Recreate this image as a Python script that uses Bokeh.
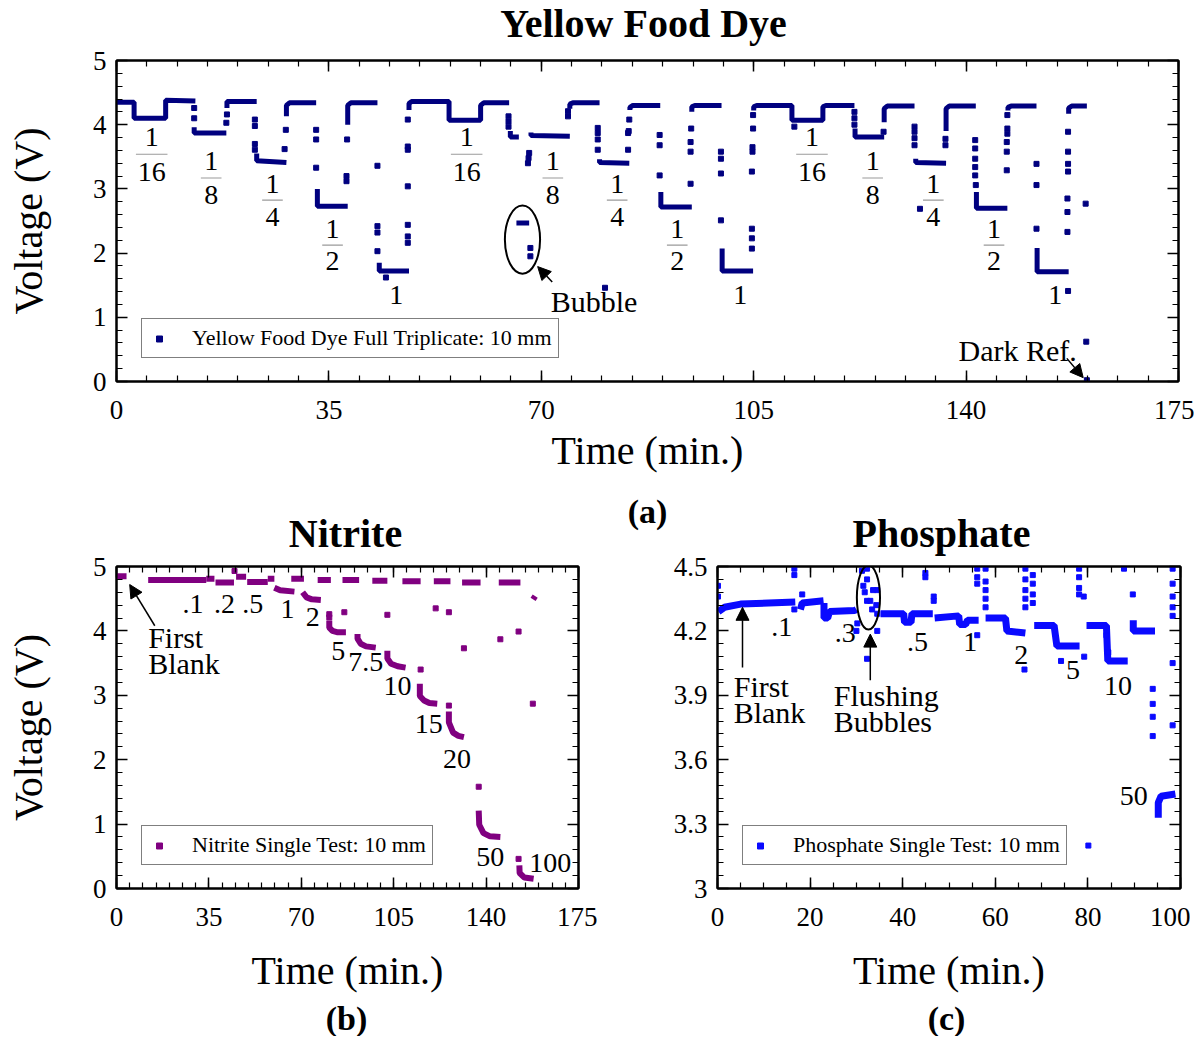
from bokeh.plotting import figure
from bokeh.models import (Range1d, FixedTicker, LinearAxis, Legend, LegendItem,
                          Arrow, NormalHead, CustomJSTickFormatter)
from bokeh.layouts import column, row
from bokeh.core.properties import value
from bokeh.embed import file_html
from bokeh.resources import INLINE

FONT = "Liberation Serif"

# ---------------- (a) Yellow Food Dye -----------------
dye_runs_t = [
    [0, 2.9, 2.9, 8.1, 8.1, 13.0], [12.8, 12.8, 18.1], [18.2, 18.2, 23.1],
    [23.1, 23.1, 28.0], [28.0, 28.0, 28.5, 32.9], [33.1, 33.1, 38.1],
    [38.1, 38.1, 38.6, 43.0], [43.3, 43.3, 48.2],
    [48.2, 48.2, 48.6, 54.8, 54.8, 60.0, 60.0, 60.5, 64.7],
    [64.9, 64.9, 66.3], [65.9, 68.0], [68.3, 68.3, 74.7], [74.7, 74.7, 75.2, 79.6],
    [79.6, 79.6, 84.5], [84.6, 84.6, 85.1, 89.6], [89.7, 89.7, 94.8],
    [94.8, 94.8, 95.3, 99.7], [99.8, 99.8, 104.9],
    [105.0, 105.0, 105.5, 111.3, 111.3, 116.4, 116.4, 116.9, 121.6],
    [121.7, 121.7, 126.5], [126.5, 126.5, 127.0, 131.5], [131.7, 131.7, 136.7],
    [136.7, 136.7, 137.2, 141.6], [141.7, 141.7, 146.8], [146.9, 146.9, 147.4, 151.6],
    [151.7, 151.7, 156.9], [156.9, 156.9, 157.4, 159.9],
]
dye_runs_v = [
    [4.35, 4.35, 4.10, 4.10, 4.38, 4.37], [3.96, 3.87, 3.87], [4.26, 4.36, 4.36],
    [3.55, 3.44, 3.41], [4.13, 4.30, 4.34, 4.34], [3.00, 2.73, 2.73],
    [4.00, 4.30, 4.34, 4.34], [1.85, 1.72, 1.72],
    [4.23, 4.33, 4.36, 4.36, 4.07, 4.07, 4.30, 4.34, 4.34],
    [3.90, 3.81, 3.81], [2.47, 2.47], [3.88, 3.83, 3.82], [4.25, 4.32, 4.34, 4.34],
    [3.46, 3.41, 3.40], [4.23, 4.27, 4.30, 4.30], [2.95, 2.72, 2.72],
    [4.20, 4.28, 4.30, 4.30], [2.07, 1.72, 1.72],
    [4.22, 4.28, 4.30, 4.30, 4.07, 4.07, 4.28, 4.30, 4.30],
    [3.94, 3.81, 3.81], [4.04, 4.25, 4.29, 4.29], [3.47, 3.41, 3.40],
    [3.90, 4.25, 4.29, 4.29], [2.95, 2.70, 2.70], [4.22, 4.27, 4.29, 4.29],
    [2.08, 1.71, 1.71], [4.17, 4.26, 4.29, 4.29],
]
dye_dot_t = [12.8, 12.8, 18.1, 18.2, 22.8, 22.8, 22.8, 22.8, 27.7, 27.9,
             32.9, 32.9, 32.9, 37.9, 37.9, 38.0, 43.0, 43.0, 43.0, 43.0, 44.4,
             48.0, 48.0, 48.0, 48.0, 48.0, 48.0, 48.0,
             64.6, 64.6, 64.6, 67.8, 67.9, 68.0, 68.2, 68.2, 74.4, 74.4, 80.5,
             79.3, 79.3, 79.3, 79.3, 84.3, 84.3, 84.4, 84.5,
             89.5, 89.5, 89.5, 94.6, 94.6, 94.6, 94.7,
             99.6, 99.6, 99.6, 99.6,
             104.7, 104.7, 104.7, 104.7, 104.8, 104.8, 104.9, 104.9, 111.7,
             121.6, 121.6, 121.6, 126.4,
             131.5, 131.5, 131.5, 131.5, 132.4, 136.6, 136.6,
             141.5, 141.5, 141.5, 141.5, 141.5, 141.6,
             146.7, 146.7, 146.7, 146.8, 146.8, 146.8,
             151.6, 151.6, 151.6, 156.8,
             156.7, 156.7, 156.7, 156.8, 156.8, 156.8, 156.8,
             159.7, 159.8, 159.9]
dye_dot_v = [4.26, 4.10, 4.03, 4.16, 4.08, 3.98, 3.70, 3.61, 3.62, 3.92,
             3.92, 3.77, 3.33, 3.12, 3.20, 3.77, 3.36, 2.42, 2.32, 2.03, 1.62,
             2.16, 2.26, 2.44, 3.04, 3.61, 3.66, 4.08,
             4.13, 4.05, 3.97, 3.40, 3.48, 3.56, 2.08, 1.95, 4.13, 4.21, 1.46,
             3.95, 3.87, 3.77, 3.61, 3.61, 3.87, 3.90, 4.08,
             3.84, 3.68, 3.21, 3.08, 3.58, 3.73, 3.94,
             3.58, 3.47, 3.24, 2.51,
             2.07, 2.23, 2.38, 3.27, 3.58, 3.65, 3.94, 4.15, 3.97,
             4.20, 4.10, 4.00, 3.89,
             3.97, 3.89, 3.79, 3.68, 2.69, 3.68, 3.78,
             3.76, 3.63, 3.47, 3.34, 3.21, 3.06,
             3.29, 3.58, 3.73, 3.86, 3.94, 4.15,
             3.39, 3.06, 2.38, 1.41,
             2.33, 2.64, 2.85, 3.27, 3.39, 3.58, 3.89,
             2.77, 0.62, 0.02]

dye_frac_t = [5.8, 15.6, 25.7, 35.6, 57.7, 71.9, 82.5, 92.4, 114.6, 124.6, 134.6, 144.6]
dye_frac_num_v = [3.81, 3.44, 3.08, 2.38, 3.81, 3.44, 3.08, 2.38, 3.81, 3.44, 3.08, 2.38]
dye_frac_den_v = [3.27, 2.90, 2.57, 1.87, 3.27, 2.90, 2.57, 1.87, 3.27, 2.90, 2.57, 1.87]
dye_frac_num = ["1"] * 12
dye_frac_den = ["16", "8", "4", "2", "16", "8", "4", "2", "16", "8", "4", "2"]
dye_one_t = [46.1, 102.8, 154.7]
dye_one_v = [1.34, 1.34, 1.34]
dye_one_txt = ["1", "1", "1"]

# ---------------- (b) Nitrite -----------------
nit_runs_t = [
    [0, 3.8], [12.0, 34.0], [34.0, 37.1], [37.5, 44.5], [45.3, 49.1], [49.5, 57.3],
    [57.3, 59.8], [59.8, 62.0, 67.4], [66.2, 71.0], [70.5, 72.0, 74.0, 77.4],
    [76.2, 81.2], [80.6, 80.6, 81.8, 83.5, 86.9], [85.6, 91.9],
    [91.3, 91.3, 92.5, 94.5, 98.2], [96.9, 102.6], [102.6, 102.6, 104.0, 106.5, 109.5],
    [108.3, 115.2], [114.9, 114.9, 116.5, 118.5, 121.5], [120.2, 126.5],
    [125.9, 125.9, 127.5, 129.5, 131.6], [130.9, 137.9],
    [137.2, 137.4, 139.0, 141.5, 145.4], [144.8, 153.0],
    [152.6, 152.7, 154.5, 158.0], [157.8, 158.6],
]
nit_runs_v = [
    [4.85, 4.85], [4.79, 4.79], [4.81, 4.81], [4.75, 4.75], [4.84, 4.84], [4.76, 4.76],
    [4.81, 4.81], [4.67, 4.63, 4.61], [4.81, 4.81], [4.60, 4.52, 4.49, 4.48],
    [4.79, 4.79], [4.16, 4.05, 4.00, 3.98, 3.98], [4.79, 4.79],
    [3.95, 3.88, 3.80, 3.76, 3.74], [4.78, 4.78], [3.69, 3.57, 3.49, 3.45, 3.43],
    [4.77, 4.77], [3.18, 2.99, 2.92, 2.88, 2.87], [4.77, 4.77],
    [2.75, 2.58, 2.42, 2.37, 2.35], [4.75, 4.75],
    [1.21, 0.99, 0.86, 0.81, 0.80], [4.75, 4.75],
    [0.36, 0.24, 0.17, 0.15], [4.49, 4.54],
]
nit_dot_t = [44.7, 80.6, 80.6, 86.3, 102.6, 115.2, 120.9, 125.9, 125.9, 131.6,
             137.2, 145.4, 152.3, 152.3, 157.7]
nit_dot_v = [4.93, 4.26, 4.21, 4.29, 4.25, 3.40, 4.35, 4.29, 2.84, 3.73,
             1.58, 3.87, 3.99, 0.46, 2.87]
nit_lab_t = [29.0, 40.9, 51.6, 64.8, 74.3, 84.0, 94.4, 106.4, 118.3, 129.0, 141.6, 164.3]
nit_lab_v = [4.42, 4.42, 4.42, 4.34, 4.21, 3.69, 3.51, 3.15, 2.56, 2.01, 0.49, 0.39]
nit_lab = [".1", ".2", ".5", "1", "2", "5", "7.5", "10", "15", "20", "50", "100"]

# ---------------- (c) Phosphate -----------------
pho_runs_t = [
    [0.2, 1.5, 5.0, 16.8], [17.9, 18.3, 22.9], [23.0, 23.0, 23.8, 24.2, 29.6, 30.0],
    [35.2, 40.2, 40.4, 41.8, 42.0, 46.5], [46.9, 52.1, 52.3, 53.6, 54.0, 56.4],
    [57.9, 62.2, 62.5, 66.5], [68.4, 72.7, 73.3, 78.2], [79.7, 84.0, 84.3, 88.6],
    [89.8, 89.8, 94.5], [95.2, 95.2, 95.8, 98.9],
]
pho_runs_v = [
    [4.29, 4.31, 4.325, 4.335], [4.30, 4.33, 4.34], [4.33, 4.26, 4.26, 4.29, 4.295, 4.30],
    [4.28, 4.28, 4.24, 4.24, 4.28, 4.28], [4.26, 4.27, 4.23, 4.23, 4.25, 4.25],
    [4.26, 4.26, 4.20, 4.19], [4.225, 4.225, 4.13, 4.13], [4.225, 4.225, 4.06, 4.06],
    [4.25, 4.20, 4.20], [3.33, 3.40, 3.43, 3.44],
]
pho_dot_t = [0.1, 0.1, 16.6, 16.6, 16.6, 18.3,
             31.2, 31.5, 31.8, 32.3, 32.3, 32.3, 33.0, 33.4, 33.6, 34.5, 34.3, 34.5, 30.2, 30.0, 34.5, 32.3,
             44.9, 44.9, 46.7, 46.7,
             56.1, 56.1, 56.1, 56.1, 57.9, 57.9, 57.9, 57.9, 57.9,
             66.3, 66.5, 66.5, 66.5, 66.5, 66.5, 68.1, 68.1, 68.1, 68.1,
             74.2, 79.2, 78.1, 78.1, 78.1, 78.1, 79.1,
             84.0, 84.4, 80.1, 87.8, 89.7,
             94.0, 94.0, 94.0, 94.0,
             98.3, 98.3, 98.3, 98.3, 98.3, 98.3, 98.3]
pho_dot_v = [4.41, 4.36, 4.49, 4.46, 4.30, 4.37,
             4.48, 4.41, 4.38, 4.49, 4.44, 4.34, 4.34, 4.30, 4.39, 4.39, 4.32, 4.28, 4.235, 4.20, 4.20, 4.07,
             4.47, 4.45, 4.34, 4.36,
             4.18, 4.49, 4.45, 4.42, 4.49, 4.43, 4.39, 4.35, 4.31,
             4.02, 4.49, 4.44, 4.39, 4.35, 4.31, 4.46, 4.42, 4.37, 4.33,
             4.06, 4.08, 4.49, 4.45, 4.40, 4.37, 4.36,
             4.18, 4.10, 3.20, 4.49, 4.37,
             3.93, 3.86, 3.80, 3.71,
             4.49, 4.42, 4.36, 4.31, 4.27, 4.05, 3.76]
pho_lab_t = [13.9, 27.6, 43.2, 54.6, 65.6, 76.8, 86.5, 89.9]
pho_lab_v = [4.22, 4.19, 4.15, 4.15, 4.09, 4.02, 3.945, 3.43]
pho_lab = [".1", ".3", ".5", "1", "2", "5", "10", "50"]

# headings (titles and panel letters)
head_text = ["Yellow Food Dye"]
mid_text = ["(a)", "Nitrite", "Phosphate"]
foot_text = ["(b)", "(c)"]

NAVY = "#00007f"
PURPLE = "#800080"
BLUE = "#0a0aff"
LEFT = 116          # frame left edge (px), shared by the column's aligned frames
STRIP_W = 1062


def make_fig(fw, fh, bl, br, bt, bb, xr, yr):
    p = figure(frame_width=fw, frame_height=fh, min_border_left=bl, min_border_right=br,
               min_border_top=bt, min_border_bottom=bb, x_range=Range1d(*xr), y_range=Range1d(*yr),
               output_backend="svg", toolbar_location=None)
    p.title.visible = False
    p.xgrid.visible = False
    p.ygrid.visible = False
    p.outline_line_color = "black"
    p.outline_line_width = 2
    p.background_fill_color = "white"
    p.border_fill_color = "white"
    return p


def text_fig(h, xs, ys, texts, sizes):
    # a text-only strip; its frame is aligned by the column with the top chart's frame
    f = figure(frame_width=STRIP_W, frame_height=h, x_range=Range1d(LEFT, LEFT + STRIP_W),
               y_range=Range1d(0, h), min_border=0, x_axis_type=None, y_axis_type=None,
               output_backend="svg", toolbar_location=None)
    f.title.visible = False
    f.outline_line_color = None
    f.grid.visible = False
    f.background_fill_color = "white"
    f.border_fill_color = "white"
    f.text(x=xs, y=ys, text=texts, text_font=value(FONT), text_font_size=sizes,
           text_font_style="bold", text_align="center", text_baseline="middle",
           text_color="black")
    return f


def style_axis(ax, ticks, minor, labels, standoff=10, fmt=None):
    ax.ticker = FixedTicker(ticks=ticks, minor_ticks=minor)
    ax.axis_line_color = "black"
    ax.axis_line_width = 2
    ax.major_tick_in = 11
    ax.major_tick_out = 0
    ax.minor_tick_in = 6
    ax.minor_tick_out = 0
    ax.major_tick_line_color = "black"
    ax.minor_tick_line_color = "black"
    ax.major_tick_line_width = 1.5
    ax.minor_tick_line_width = 1.2
    if labels:
        ax.major_label_text_font = FONT
        ax.major_label_text_font_size = "27px"
        ax.major_label_text_color = "black"
        ax.major_label_standoff = standoff
        if fmt is not None:
            ax.formatter = fmt
    else:
        ax.formatter = CustomJSTickFormatter(code="return '';")
        ax.major_label_text_font_size = "1px"
        ax.major_label_standoff = 0


def frame_axes(p, xt, xm, yt, ym, xstand, fmt=None):
    bottom = p.below[0]
    left = p.left[0]
    style_axis(bottom, xt, xm, True, xstand)
    style_axis(left, yt, ym, True, 10, fmt)
    top = LinearAxis()
    right = LinearAxis()
    style_axis(top, xt, xm, False)
    style_axis(right, yt, ym, False)
    p.add_layout(top, "above")
    p.add_layout(right, "right")
    return bottom, left


def axis_labels(bottom, left, xlabel, ylabel, xlab_standoff):
    bottom.axis_label = xlabel
    bottom.axis_label_text_font = FONT
    bottom.axis_label_text_font_size = "40px"
    bottom.axis_label_text_font_style = "normal"
    bottom.axis_label_text_color = "black"
    bottom.axis_label_standoff = xlab_standoff
    if ylabel:
        left.axis_label = ylabel
        left.axis_label_text_font = FONT
        left.axis_label_text_font_size = "40px"
        left.axis_label_text_font_style = "normal"
        left.axis_label_text_color = "black"
        left.axis_label_standoff = 39


def legend(p, label, r):
    lg = Legend(items=[LegendItem(label=label, renderers=[r])], location=(25, 23),
                label_text_font=FONT, label_text_font_size="22px", label_text_color="black",
                border_line_color="black", border_line_width=1.5, padding=6, margin=0,
                glyph_width=22, glyph_height=15, label_standoff=22, label_height=22,
                background_fill_alpha=1.0)
    p.add_layout(lg)


def txt(p, x, y, t, size="28px", align="center"):
    p.text(x=x, y=y, text=t, text_font=value(FONT), text_font_size=size,
           text_align=align, text_baseline="middle", text_color="black")


def arrow(p, x0, y0, x1, y1):
    p.add_layout(Arrow(end=NormalHead(size=13, fill_color="black", line_color="black"),
                       x_start=x0, y_start=y0, x_end=x1, y_end=y1,
                       line_color="black", line_width=1.5))


# ---- heading strip above (a) ----
head = text_fig(46, [643], [23.4], head_text, ["40px"])

# ---- top figure ----
pa = make_fig(1062, 321, LEFT, 16, 14, 95, (0, 175), (0, 5))
ba, la = frame_axes(pa, list(range(0, 176, 35)), [i * 5 for i in range(36)],
                    [0, 1, 2, 3, 4, 5], [i * 0.2 for i in range(26)], 19)
axis_labels(ba, la, "Time (min.)", "Voltage (V)", 6)
pa.multi_line(xs=dye_runs_t, ys=dye_runs_v, line_color=NAVY, line_width=5)
ra = pa.scatter(x=dye_dot_t, y=dye_dot_v, marker="square", size=5, fill_color=NAVY, line_color=NAVY)
legend(pa, "Yellow Food Dye Full Triplicate: 10 mm", ra)
bar_half = [2.6 if len(d) > 1 else 1.7 for d in dye_frac_den]
pa.segment(x0=[t - h for t, h in zip(dye_frac_t, bar_half)],
           y0=[(a + b) / 2 for a, b in zip(dye_frac_num_v, dye_frac_den_v)],
           x1=[t + h for t, h in zip(dye_frac_t, bar_half)],
           y1=[(a + b) / 2 for a, b in zip(dye_frac_num_v, dye_frac_den_v)],
           line_color="#9a9a9a", line_width=1.2)
txt(pa, dye_frac_t, dye_frac_num_v, dye_frac_num)
txt(pa, dye_frac_t, dye_frac_den_v, dye_frac_den)
txt(pa, dye_one_t, dye_one_v, dye_one_txt)
pa.ellipse(x=[66.9], y=[2.21], width=[5.8], height=[1.06], fill_color=None,
           line_color="black", line_width=2)
txt(pa, [78.7], [1.25], ["Bubble"], size="30px")
arrow(pa, 71.8, 1.55, 69.4, 1.79)
txt(pa, [148.5], [0.48], ["Dark Ref."], size="30px")
arrow(pa, 156.6, 0.36, 159.3, 0.06)

# ---- middle heading strip: (a), Nitrite, Phosphate ----
mid = text_fig(80, [647, 345, 941], [45, 23, 23], mid_text, ["34px", "40px", "40px"])

# ---- nitrite ----
pb = make_fig(462, 322, LEFT, 19, 10, 108, (0, 175), (0, 5))
bb_, lb = frame_axes(pb, list(range(0, 176, 35)), [i * 5 for i in range(36)],
                     [0, 1, 2, 3, 4, 5], [i * 0.2 for i in range(26)], 19)
axis_labels(bb_, lb, "Time (min.)", "Voltage (V)", 19)
pb.multi_line(xs=nit_runs_t, ys=nit_runs_v, line_color=PURPLE, line_width=6)
rb = pb.scatter(x=nit_dot_t, y=nit_dot_v, marker="square", size=5, fill_color=PURPLE, line_color=PURPLE)
legend(pb, "Nitrite Single Test: 10 mm", rb)
txt(pb, nit_lab_t, nit_lab_v, nit_lab)
txt(pb, [12.0, 12.0], [3.90, 3.50], ["First", "Blank"], size="30px", align="left")
arrow(pb, 14.5, 4.08, 5.0, 4.72)

# ---- phosphate ----
fmt = CustomJSTickFormatter(code="return String(Number(tick.toFixed(1)));")
pc = make_fig(463, 322, 120, 10, 10, 108, (0, 100), (3, 4.5))
bc, lc = frame_axes(pc, [0, 20, 40, 60, 80, 100], [i * 5 for i in range(21)],
                    [3.0, 3.3, 3.6, 3.9, 4.2, 4.5], [3 + i * 0.06 for i in range(26)], 19, fmt)
axis_labels(bc, lc, "Time (min.)", None, 19)
pc.multi_line(xs=pho_runs_t, ys=pho_runs_v, line_color=BLUE, line_width=7)
rc = pc.scatter(x=pho_dot_t, y=pho_dot_v, marker="square", size=5, fill_color=BLUE, line_color=BLUE)
legend(pc, "Phosphate Single Test: 10 mm", rc)
txt(pc, pho_lab_t, pho_lab_v, pho_lab)
txt(pc, [3.5, 3.5], [3.94, 3.82], ["First", "Blank"], size="30px", align="left")
txt(pc, [25.1, 25.1], [3.90, 3.78], ["Flushing", "Bubbles"], size="30px", align="left")
arrow(pc, 5.4, 4.03, 5.4, 4.31)
arrow(pc, 33.0, 3.97, 33.0, 4.185)
pc.ellipse(x=[32.6], y=[4.356], width=[5.0], height=[0.30], fill_color=None,
           line_color="black", line_width=2)

# ---- foot strip: (b), (c) ----
foot = text_fig(40, [346, 946], [18.5, 18.5], foot_text, ["34px", "34px"])

layout = column(head, pa, mid, row(pb, pc), foot)
open("out.html", "w").write(file_html(layout, INLINE))
